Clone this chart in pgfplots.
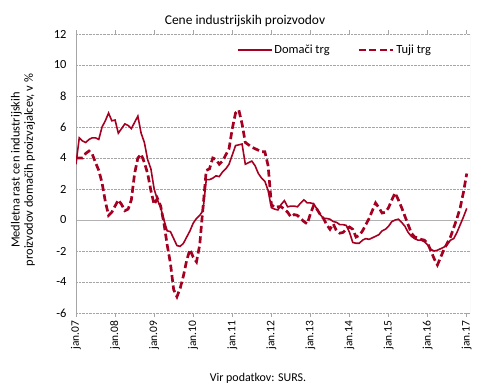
\documentclass[border=0pt]{standalone}
\usepackage{pgfplots}
\pgfplotsset{compat=1.18}
\usepackage{pgfplotstable}
\usepackage{fontspec}
\setmainfont{Carlito}
\definecolor{dred}{RGB}{165,0,33}

\pgfplotstableread{
m v
0 3.6
1 5.3
2 5.1
3 5.0
4 5.2
5 5.3
6 5.3
7 5.2
8 6.0
9 6.4
10 6.9
11 6.4
12 6.45
13 5.6
14 5.9
15 6.2
16 6.1
17 5.9
18 6.3
19 6.7
20 5.6
21 5.0
22 3.9
23 3.3
24 2.0
25 1.3
26 0.8
27 0.0
28 -0.7
29 -0.75
30 -1.2
31 -1.65
32 -1.7
33 -1.5
34 -1.1
35 -0.7
36 -0.2
37 0.1
38 0.3
39 0.6
40 2.6
41 2.6
42 2.7
43 2.85
44 2.8
45 3.1
46 3.3
47 3.6
48 4.2
49 4.8
50 4.85
51 4.9
52 3.6
53 3.7
54 3.8
55 3.5
56 3.0
57 2.7
58 2.5
59 1.9
60 0.8
61 0.7
62 0.65
63 1.0
64 1.25
65 0.85
66 0.9
67 0.9
68 0.85
69 1.1
70 1.3
71 1.1
72 1.1
73 1.05
74 0.7
75 0.35
76 0.1
77 0.1
78 0.05
79 -0.1
80 -0.15
81 -0.3
82 -0.3
83 -0.35
84 -0.8
85 -1.45
86 -1.5
87 -1.5
88 -1.3
89 -1.2
90 -1.25
91 -1.15
92 -1.05
93 -0.95
94 -0.7
95 -0.6
96 -0.4
97 -0.1
98 0.0
99 0.05
100 -0.15
101 -0.4
102 -0.8
103 -1.05
104 -1.2
105 -1.3
106 -1.3
107 -1.4
108 -1.6
109 -1.9
110 -2.0
111 -1.95
112 -1.85
113 -1.75
114 -1.6
115 -1.3
116 -1.2
117 -0.8
118 -0.3
119 0.2
120 0.75
}\domestic

\pgfplotstableread{
m v
0 4.0
1 4.0
2 4.0
3 4.3
4 4.45
5 4.25
6 3.7
7 3.2
8 2.4
9 1.2
10 0.3
11 0.5
12 0.9
13 1.3
14 1.0
15 0.6
16 0.7
17 1.3
18 3.0
19 4.0
20 4.25
21 3.7
22 3.0
23 1.9
24 1.0
25 1.4
26 0.9
27 -0.2
28 -1.6
29 -2.8
30 -4.5
31 -4.95
32 -4.4
33 -3.6
34 -2.6
35 -1.9
36 -2.4
37 -2.7
38 -1.6
39 0.8
40 3.2
41 3.3
42 4.0
43 3.9
44 3.6
45 3.8
46 4.2
47 4.6
48 5.9
49 6.9
50 7.1
51 6.2
52 5.0
53 4.85
54 4.7
55 4.6
56 4.5
57 4.4
58 4.4
59 3.5
60 1.0
61 0.8
62 0.85
63 0.85
64 0.7
65 0.5
66 0.2
67 0.35
68 0.3
69 0.1
70 -0.1
71 -0.25
72 0.4
73 0.95
74 0.7
75 0.35
76 0.1
77 -0.3
78 -0.6
79 -0.25
80 -0.7
81 -0.85
82 -0.8
83 -0.6
84 -0.45
85 -0.6
86 -1.1
87 -1.0
88 -0.7
89 -0.3
90 0.1
91 0.6
92 1.1
93 0.8
94 0.45
95 0.5
96 0.8
97 1.3
98 1.75
99 1.3
100 0.8
101 0.25
102 -0.3
103 -0.85
104 -1.1
105 -1.15
106 -1.25
107 -1.3
108 -1.5
109 -2.0
110 -2.5
111 -2.9
112 -2.4
113 -1.9
114 -1.5
115 -1.1
116 -0.5
117 0.1
118 0.8
119 1.8
120 3.0
}\foreign

\begin{document}
\begin{tikzpicture}
\begin{axis}[
  at={(0,0)}, anchor=south west,
  scale only axis, width=394bp, height=279bp,
  xmin=0, xmax=121, ymin=-6, ymax=12,
  xtick={0,12,...,120},
  xticklabels={jan.07,jan.08,jan.09,jan.10,jan.11,jan.12,jan.13,jan.14,jan.15,jan.16,jan.17},
  ytick={-6,-4,...,12},
  axis line style={draw=none},
  ymajorgrids,
  grid style={gray!70, densely dotted, line width=0.6pt},
  tick align=outside,
  major tick length=4bp,
  xtick style={gray!70, line width=0.6pt},
  ytick style={draw=none},
  /pgf/number format/assume math mode=true,
  xticklabel style={rotate=90, anchor=east, font=\fontsize{11.5}{13}\selectfont, text=black},
  yticklabel style={font=\fontsize{12.5}{14}\selectfont, text=black, xshift=-2bp},
  legend columns=2,
  legend style={draw=none, fill=none, at={(0.40,0.943)}, anchor=west,
     font=\fontsize{12.5}{14}\selectfont, text=black,
     /tikz/every even column/.append style={column sep=26bp}},
  legend image code/.code={\draw[#1] (0bp,0bp) -- (34bp,0bp);},
]
\draw[gray!60, line width=0.8pt] (axis cs:0,0) -- (axis cs:121,0);
\draw[gray!70, line width=0.8pt] (axis cs:0,-6) -- (axis cs:0,12);
\draw[gray!30, line width=0.8pt] (axis cs:121,-6) -- (axis cs:121,12);
\addplot[dred, line width=1.6pt, no marks] table[x=m, y=v] {\domestic};
\addlegendentry{Domači trg}
\addplot[dred, line width=2.7pt, no marks, dash pattern=on 7pt off 3.5pt] table[x=m, y=v] {\foreign};
\addlegendentry{Tuji trg}
\end{axis}
\node[font=\fontsize{13.5}{15}\selectfont] at (169bp,292bp) {Cene industrijskih proizvodov};
\node[rotate=90, align=center, font=\fontsize{12.5}{13.5}\selectfont, text=black] at (-53bp,143bp) {Medletna rast cen industrijskih\\proizvodov domačih proizvajalcev, v \%};
\node[font=\fontsize{12}{13}\selectfont, text=black] at (182bp,-65bp) {Vir podatkov: SURS.};
\path[use as bounding box] (-76bp,-78bp) rectangle (414bp,313bp);
\end{tikzpicture}
\end{document}
